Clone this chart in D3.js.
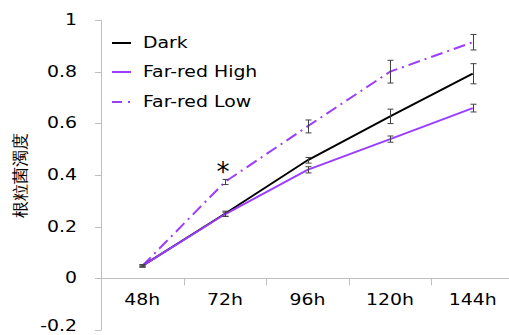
<html>
<head>
<script src="https://d3js.org/d3.v7.min.js"></script>
<style>
  body { margin: 0; background: #fff; }
  text { font-family: "DejaVu Sans", Verdana, sans-serif; }
</style>
</head>
<body>
<script>
// data
var categories = ["48h", "72h", "96h", "120h", "144h"];
var seriesNames = ["Dark", "Far-red High", "Far-red Low"];
var dark = [0.048, 0.250, 0.457, 0.627, 0.792];
var darkErr = [0.004, 0.010, 0.011, 0.028, 0.039];
var farRedHigh = [0.048, 0.248, 0.420, 0.539, 0.659];
var farRedHighErr = [0.004, 0.008, 0.012, 0.012, 0.015];
var farRedLow = [0.048, 0.373, 0.588, 0.800, 0.914];
var farRedLowErr = [0.004, 0.010, 0.025, 0.044, 0.030];
var yTicks = [-0.2, 0, 0.2, 0.4, 0.6, 0.8, 1];

var w = 509, h = 335;
var sx = 1.18; // text in the picture is a bit wide

var svg = d3.select("body").append("svg")
    .attr("width", w)
    .attr("height", h);

var x = d3.scaleBand().domain(categories).range([101, 514]).padding(0);
var y = d3.scaleLinear().domain([-0.2, 1]).range([330, 20]);

var axisColor = "#bfbfbf";
var purple = "#9b3dff";

// y axis
svg.append("line")
    .attr("x1", 101.5).attr("x2", 101.5)
    .attr("y1", y(1)).attr("y2", y(-0.2))
    .attr("stroke", axisColor);
svg.selectAll(".ytick").data(yTicks).enter().append("line")
    .attr("x1", 95).attr("x2", 101.5)
    .attr("y1", function(d) { return Math.round(y(d)) + 0.5; })
    .attr("y2", function(d) { return Math.round(y(d)) + 0.5; })
    .attr("stroke", axisColor);
svg.selectAll(".ylab").data(yTicks).enter().append("text")
    .attr("text-anchor", "end")
    .attr("transform", function(d) { return "translate(77," + Math.min(y(d) + 5, 331) + ") scale(" + sx + ",1)"; })
    .attr("font-size", 16)
    .attr("fill", "#000")
    .text(function(d) { return d3.format("")(d).replace("−", "-"); });

// x axis on zero
svg.append("line")
    .attr("x1", 101).attr("x2", w)
    .attr("y1", Math.round(y(0)) + 0.5).attr("y2", Math.round(y(0)) + 0.5)
    .attr("stroke", axisColor);
svg.selectAll(".xtick").data(categories.slice(1)).enter().append("line")
    .attr("x1", function(d) { return Math.round(x(d)) + 0.5; })
    .attr("x2", function(d) { return Math.round(x(d)) + 0.5; })
    .attr("y1", y(0)).attr("y2", y(0) + 7)
    .attr("stroke", axisColor);
svg.selectAll(".xlab").data(categories).enter().append("text")
    .attr("text-anchor", "middle")
    .attr("transform", function(d) { return "translate(" + (x(d) + x.bandwidth() / 2) + ",305) scale(" + sx + ",1)"; })
    .attr("font-size", 16)
    .attr("fill", "#000")
    .text(function(d) { return d; });

// y title
svg.append("text")
    .attr("transform", "translate(26,175) rotate(-90)")
    .attr("text-anchor", "middle")
    .attr("font-family", "Noto Sans CJK JP")
    .attr("font-size", 17)
    .attr("font-weight", 300)
    .text("根粒菌濁度");

var cx = function(d, i) { return x(categories[i]) + x.bandwidth() / 2; };
var line = d3.line().x(function(d, i) { return cx(d, i); }).y(function(d) { return y(d); });

var series = [
    { name: seriesNames[0], vals: dark, err: darkErr, color: "#000", dash: null },
    { name: seriesNames[1], vals: farRedHigh, err: farRedHighErr, color: purple, dash: null },
    { name: seriesNames[2], vals: farRedLow, err: farRedLowErr, color: purple, dash: "12,5,2,5" }
];

// draw order: far-red low, dark, far-red high
[series[2], series[0], series[1]].forEach(function(s) {
    svg.append("path")
        .datum(s.vals)
        .attr("d", line)
        .attr("fill", "none")
        .attr("stroke", s.color)
        .attr("stroke-width", 2)
        .attr("stroke-dasharray", s.dash);
});

// error bars
series.forEach(function(s) {
    var g = svg.append("g").attr("stroke", "#404040").attr("stroke-width", 1);
    s.vals.forEach(function(v, i) {
        var px = Math.round(cx(v, i)) + 0.5;
        var top = y(v + s.err[i]), bot = y(v - s.err[i]);
        g.append("line").attr("x1", px).attr("x2", px).attr("y1", top).attr("y2", bot);
        g.append("line").attr("x1", px - 3).attr("x2", px + 3).attr("y1", top).attr("y2", top);
        g.append("line").attr("x1", px - 3).attr("x2", px + 3).attr("y1", bot).attr("y2", bot);
    });
});

// significance mark
svg.append("text")
    .attr("x", cx(0, 1) - 2)
    .attr("y", y(farRedLow[1]) - 1)
    .attr("text-anchor", "middle")
    .attr("font-family", "Liberation Sans")
    .attr("font-size", 26)
    .attr("fill", "#000")
    .text("*");

// legend
var legY = [42, 71, 101];
series.forEach(function(s, i) {
    svg.append("line")
        .attr("x1", 112).attr("x2", 131)
        .attr("y1", legY[i] + 1).attr("y2", legY[i] + 1)
        .attr("stroke", s.color)
        .attr("stroke-width", 2)
        .attr("stroke-dasharray", s.dash ? "10,6,2,6" : null);
    svg.append("text")
        .attr("transform", "translate(143," + (legY[i] + 6) + ") scale(" + sx + ",1)")
        .attr("font-size", 16)
        .text(s.name);
});
</script>
</body>
</html>
